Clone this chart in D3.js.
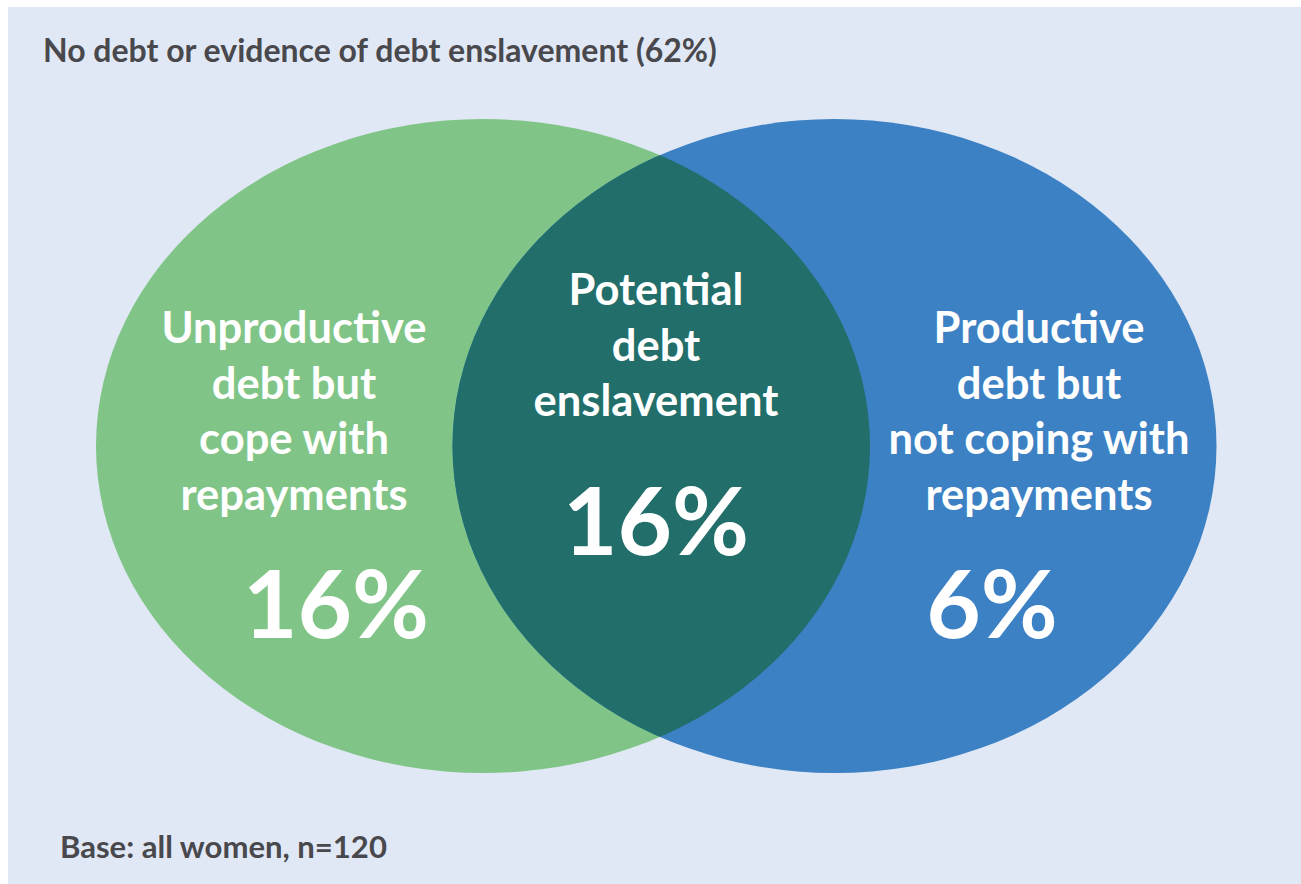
<!DOCTYPE html>
<html>
<head>
<meta charset="utf-8">
<script src="https://cdn.jsdelivr.net/npm/d3@7"></script>
<style>
  html, body { margin: 0; padding: 0; background: #ffffff; }
  svg { display: block; }
  text { font-family: Lato, "Open Sans", sans-serif; }
</style>
</head>
<body>
<svg id="chart" width="1301" height="884"></svg>
<script>
// ---- data ----
const title = "No debt or evidence of debt enslavement (62%)";
const footnote = "Base: all women, n=120";
const setNames = ["Unproductive debt", "Productive debt"];
const regionKeys = ["left", "overlap", "right"];
const regionLabels = [
  ["Unproductive", "debt but", "cope with", "repayments"],
  ["Potential", "debt", "enslavement"],
  ["Productive", "debt but", "not coping with", "repayments"]
];
const regionValues = [16, 16, 6];
const setColors = ["#80c587", "#3c81c4"];
const overlapColor = "#216e6a";

// ---- layout ----
const W = 1301, H = 884;
const svg = d3.select("#chart");

svg.append("rect").attr("x", 8).attr("y", 7).attr("width", W - 8).attr("height", H - 7)
  .attr("fill", "#e1e8f5");

// scale mapping set index -> ellipse centre x
const cx = d3.scaleLinear().domain([0, 1]).range([483, 834.5]);
const rx = d3.scaleOrdinal().domain([0, 1]).range([387, 382]);
const cy = 446, ry = 327;

const defs = svg.append("defs");
defs.append("clipPath").attr("id", "clipA")
  .append("ellipse").attr("cx", cx(0)).attr("cy", cy).attr("rx", rx(0)).attr("ry", ry);

svg.selectAll("ellipse.set").data(setNames).join("ellipse")
  .attr("class", "set")
  .attr("cx", (d, i) => cx(i)).attr("cy", cy)
  .attr("rx", (d, i) => rx(i)).attr("ry", ry)
  .attr("fill", (d, i) => setColors[i]);

svg.append("ellipse")
  .attr("cx", cx(1)).attr("cy", cy).attr("rx", rx(1)).attr("ry", ry)
  .attr("fill", overlapColor).attr("clip-path", "url(#clipA)");

// title and footnote
function fitText(sel, target) {
  const len = sel.node().getComputedTextLength();
  const fs = parseFloat(sel.attr("font-size"));
  sel.attr("font-size", fs * target / len);
}
const t = svg.append("text").attr("x", 43).attr("y", 62)
  .attr("font-size", 26).attr("font-weight", 700).attr("fill", "#48484d").text(title);
fitText(t, 674);
const f = svg.append("text").attr("x", 60).attr("y", 858)
  .attr("font-size", 26).attr("font-weight", 700).attr("fill", "#48484d").text(footnote);
fitText(f, 327);

// region labels
const labelX = [294, 656, 1039];
const labelY0 = [343, 305, 343];
const lineH = 55.5;
const valueX = [336, 656, 992];
const valueY = [638, 555, 638];

regionKeys.forEach((k, i) => {
  const g = svg.append("g").attr("class", "label-" + k);
  g.selectAll("text.l").data(regionLabels[i]).join("text")
    .attr("class", "l")
    .attr("x", labelX[i])
    .attr("y", (d, j) => labelY0[i] + j * lineH)
    .attr("text-anchor", "middle")
    .attr("font-size", 43.5).attr("font-weight", 700).attr("fill", "#ffffff")
    .text(d => d);
  g.append("text")
    .attr("x", valueX[i]).attr("y", valueY[i])
    .attr("text-anchor", "middle")
    .attr("font-size", 94).attr("font-weight", 700).attr("fill", "#ffffff")
    .text(regionValues[i] + "%");
});
</script>
</body>
</html>
